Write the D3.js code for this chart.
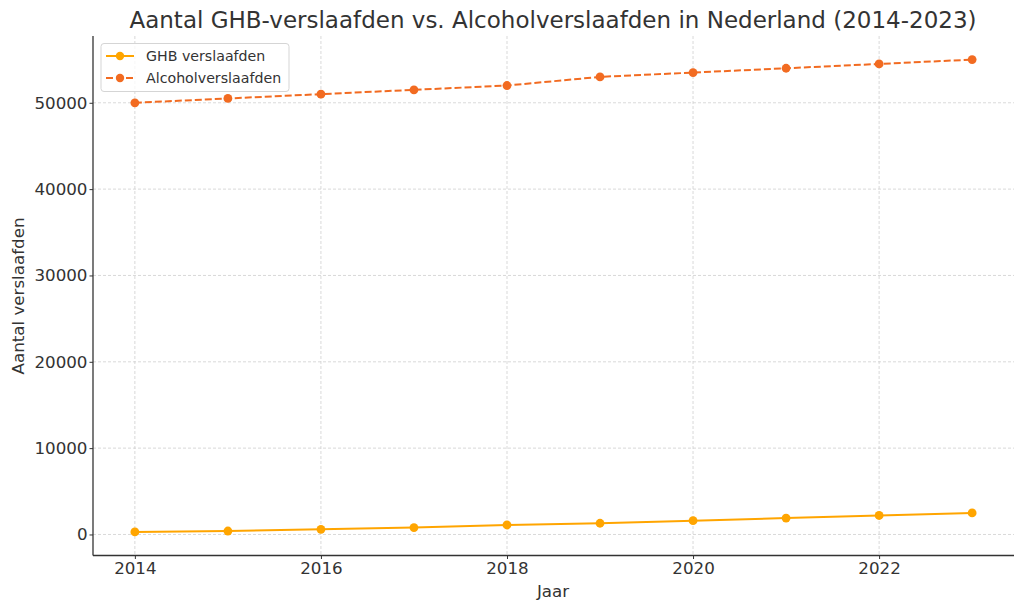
<!DOCTYPE html>
<html><head><meta charset="utf-8">
<script src="https://cdn.jsdelivr.net/npm/d3@7"></script>
<style>body{margin:0;background:#fff}svg{display:block}text{font-family:"DejaVu Sans",sans-serif}</style>
</head><body>
<svg id="c" width="1024" height="611"></svg>
<script>
const years = [2014,2015,2016,2017,2018,2019,2020,2021,2022,2023];
const ghb = [300,400,600,800,1100,1300,1600,1900,2200,2500];
const alcohol = [50000,50500,51000,51500,52000,53000,53500,54000,54500,55000];
const xTicks = [2014,2016,2018,2020,2022];
const yTicks = [0,10000,20000,30000,40000,50000];
const seriesNames = ["GHB verslaafden","Alcoholverslaafden"];
const colors = ["#FFA500","#F26B21"];

const svg = d3.select("#c");
const L=93, R=1014, T=36, B=555.5;
const x = d3.scaleLinear().domain([2013.55,2023.45]).range([L,R]);
const y = d3.scaleLinear().domain([-2435,57735]).range([B,T]);

// grid
const g = svg.append("g");
g.selectAll(".gx").data(xTicks).enter().append("line")
 .attr("x1",d=>x(d)).attr("x2",d=>x(d)).attr("y1",T).attr("y2",B)
 .attr("stroke","#cfcfcf").attr("stroke-width",0.8).attr("stroke-dasharray","3,2");
g.selectAll(".gy").data(yTicks).enter().append("line")
 .attr("x1",L).attr("x2",R).attr("y1",d=>y(d)).attr("y2",d=>y(d))
 .attr("stroke","#cfcfcf").attr("stroke-width",0.8).attr("stroke-dasharray","3,2");

// axes
const xa = svg.append("g").attr("transform",`translate(0,${B})`)
 .call(d3.axisBottom(x).tickValues(xTicks).tickFormat(d3.format("d")).tickSize(3.5).tickPadding(3));
const ya = svg.append("g").attr("transform",`translate(${L},0)`)
 .call(d3.axisLeft(y).tickValues(yTicks).tickFormat(d3.format("d")).tickSize(3.5).tickPadding(2));
[xa,ya].forEach(a=>{
  a.select(".domain").remove();
  a.selectAll(".tick line").attr("stroke","#333").attr("stroke-width",1);
  a.selectAll(".tick text").attr("fill","#333").style("font-size","16.7px").style("font-family","DejaVu Sans");
});
svg.append("line").attr("x1",L).attr("x2",L).attr("y1",T).attr("y2",B).attr("stroke","#333").attr("stroke-width",1.3);
svg.append("line").attr("x1",L).attr("x2",R).attr("y1",B).attr("y2",B).attr("stroke","#333").attr("stroke-width",1.3);

// lines
const data = [ghb, alcohol];
const line = d3.line().x((d,i)=>x(years[i])).y(d=>y(d));
data.forEach((s,k)=>{
  svg.append("path").datum(s).attr("d",line).attr("fill","none")
   .attr("stroke",colors[k]).attr("stroke-width",2)
   .attr("stroke-dasharray",k===1?"7,3":null);
  svg.selectAll(".p"+k).data(s).enter().append("circle")
   .attr("cx",(d,i)=>x(years[i])).attr("cy",d=>y(d)).attr("r",4.4).attr("fill",colors[k]);
});

// title and labels
svg.append("text").attr("x",553).attr("y",28).attr("text-anchor","middle")
 .attr("fill","#333").style("font-size","23px").text("Aantal GHB-verslaafden vs. Alcoholverslaafden in Nederland (2014-2023)");
svg.append("text").attr("x",553).attr("y",597).attr("text-anchor","middle")
 .attr("fill","#333").style("font-size","16.7px").text("Jaar");
svg.append("text").attr("transform","translate(24,296) rotate(-90)").attr("text-anchor","middle")
 .attr("fill","#333").style("font-size","16.7px").text("Aantal verslaafden");

// legend
const lg = svg.append("g");
lg.append("rect").attr("x",101).attr("y",43.5).attr("width",188).attr("height",48).attr("rx",3)
 .attr("fill","#fff").attr("fill-opacity",0.8).attr("stroke","#d5d5d5").attr("stroke-width",1);
seriesNames.forEach((n,k)=>{
  const yy = 56 + k*22;
  lg.append("line").attr("x1",106).attr("x2",134).attr("y1",yy).attr("y2",yy)
   .attr("stroke",colors[k]).attr("stroke-width",2).attr("stroke-dasharray",k===1?"7,3":null);
  lg.append("circle").attr("cx",120).attr("cy",yy).attr("r",4.2).attr("fill",colors[k]);
  lg.append("text").attr("x",146).attr("y",yy+5).attr("fill","#333").style("font-size","14.2px").text(n);
});
</script>
</body></html>
